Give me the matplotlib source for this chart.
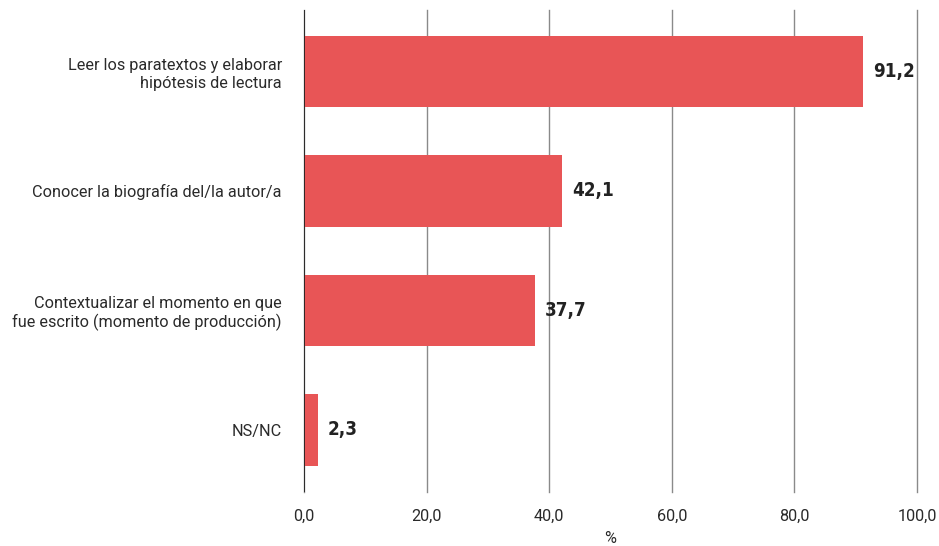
import matplotlib
matplotlib.use("Agg")
import matplotlib.pyplot as plt
from matplotlib.ticker import FuncFormatter

categories = [
    "Leer los paratextos y elaborar\nhipótesis de lectura",
    "Conocer la biografía del/la autor/a",
    "Contextualizar el momento en que\nfue escrito (momento de producción)",
    "NS/NC",
]
values = [91.2, 42.1, 37.7, 2.3]
xticks = [0, 20, 40, 60, 80, 100]

bar_color = "#E85556"
text_color = "#2a2a2a"

fig = plt.figure(figsize=(9.39, 5.46), dpi=100)
ax = fig.add_axes([304 / 939, 1 - 492 / 546, 613 / 939, 482 / 546])

ypos = list(range(len(categories)))
ax.barh(ypos, values, height=0.6, color=bar_color, zorder=2)

for y, v in zip(ypos, values):
    ax.text(v + 1.6, y, f"{v:.1f}".replace(".", ","), va="center", ha="left",
            fontsize=13.5, fontweight="bold", fontstretch="condensed",
            family="DejaVu Sans", color="#222222")

ax.set_xlim(0, 100)
ax.set_ylim(3.52, -0.515)
ax.set_xticks(xticks)
ax.xaxis.set_major_formatter(FuncFormatter(lambda x, p: f"{x:.1f}".replace(".", ",")))
ax.set_yticks(ypos)
ax.set_yticklabels(categories, family="Roboto", fontweight="normal",
                   fontsize=11.7, color=text_color, linespacing=1.22)
for lab in ax.get_xticklabels():
    lab.set_family("Roboto")
    lab.set_fontweight("normal")
    lab.set_fontsize(11.7)
    lab.set_color(text_color)

ax.tick_params(axis="x", length=0, pad=12)
ax.tick_params(axis="y", length=0, pad=16)
ax.grid(axis="x", color="#8a8a8a", linewidth=1, zorder=0)
for gl in ax.get_xgridlines():
    gl.set_clip_on(False)
for s in ax.spines.values():
    s.set_visible(False)
ax.axvline(0, color="#222222", linewidth=1.3, zorder=3)

ax.set_xlabel("%", family="Roboto", fontweight="normal", fontsize=11.7,
              color=text_color, labelpad=5)

fig.savefig("out.png", dpi=100)
